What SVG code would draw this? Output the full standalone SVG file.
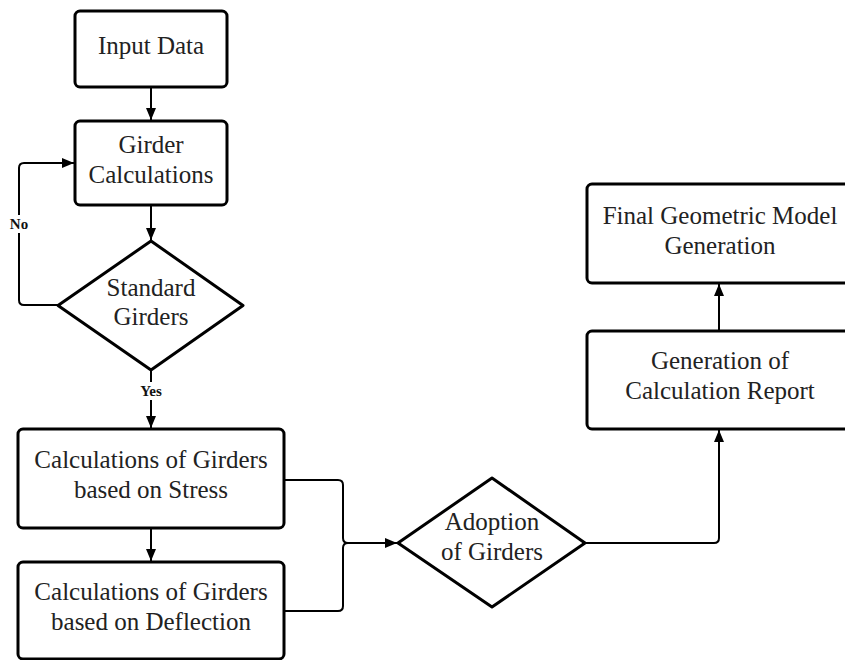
<svg xmlns="http://www.w3.org/2000/svg" width="845" height="660" viewBox="0 0 845 660">
<style>
.box{fill:#fff;stroke:#000;stroke-width:3;}
.t{font-family:"Liberation Serif","Times New Roman",serif;font-size:25px;fill:#222;text-anchor:middle;}
.lbl{font-family:"Liberation Serif","Times New Roman",serif;font-size:15px;font-weight:bold;fill:#111;text-anchor:middle;}
.c{fill:none;stroke:#000;stroke-width:2;}
</style>
<defs>
<marker id="ah" viewBox="0 0 12 10" refX="12" refY="5" markerWidth="12" markerHeight="10" markerUnits="userSpaceOnUse" orient="auto">
<path d="M0,0 L12,5 L0,10 Z" fill="#000"/>
</marker>
</defs>
<rect width="845" height="660" fill="#fff"/>
<g id="connectors">
<path class="c" d="M151,87 V120" marker-end="url(#ah)"/>
<path class="c" d="M151,205 V240" marker-end="url(#ah)"/>
<path class="c" d="M58,305 H24 Q19,305 19,300 V168 Q19,163 24,163 H74" marker-end="url(#ah)"/>
<path class="c" d="M151,370 V428" marker-end="url(#ah)"/>
<path class="c" d="M151,528 V561" marker-end="url(#ah)"/>
<path class="c" d="M284,480 H338 Q343,480 343,485 V538 Q343,543 348,543 H397" marker-end="url(#ah)"/>
<path class="c" d="M284,611 H338 Q343,611 343,606 V548 Q343,543 348,543"/>
<path class="c" d="M585,543 H714 Q719,543 719,538 V430" marker-end="url(#ah)"/>
<path class="c" d="M719,331 V284" marker-end="url(#ah)"/>
<rect x="8" y="215" width="24" height="18" fill="#fff"/>
<text class="lbl" x="19" y="229">No</text>
<rect x="137" y="382" width="28" height="18" fill="#fff"/>
<text class="lbl" x="151" y="396">Yes</text>
</g>
<g id="input-data">
<rect class="box" x="75" y="11" width="152" height="76" rx="5"/>
<text class="t" x="151" y="54">Input Data</text>
</g>
<g id="girder-calculations">
<rect class="box" x="75" y="121" width="152" height="84" rx="5"/>
<text class="t" x="151" y="153">Girder</text>
<text class="t" x="151" y="183">Calculations</text>
</g>
<g id="standard-girders">
<path class="box" d="M151,241 L243,305.5 L151,370 L58,305.5 Z" stroke-linejoin="round"/>
<text class="t" x="151" y="296">Standard</text>
<text class="t" x="151" y="325">Girders</text>
</g>
<g id="stress">
<rect class="box" x="18" y="429" width="266" height="99" rx="5"/>
<text class="t" x="151" y="468">Calculations of Girders</text>
<text class="t" x="151" y="498">based on Stress</text>
</g>
<g id="deflection">
<rect class="box" x="18" y="562" width="266" height="97" rx="5"/>
<text class="t" x="151" y="600">Calculations of Girders</text>
<text class="t" x="151" y="630">based on Deflection</text>
</g>
<g id="adoption">
<path class="box" d="M492,478 L585,543 L492,607 L398,543 Z" stroke-linejoin="round"/>
<text class="t" x="492" y="530">Adoption</text>
<text class="t" x="492" y="560">of Girders</text>
</g>
<g id="report">
<rect class="box" x="587" y="331" width="270" height="98" rx="5"/>
<text class="t" x="720" y="369">Generation of</text>
<text class="t" x="720" y="399">Calculation Report</text>
</g>
<g id="final-model">
<rect class="box" x="587" y="184" width="270" height="99" rx="5"/>
<text class="t" x="720" y="224">Final Geometric Model</text>
<text class="t" x="720" y="254">Generation</text>
</g>
</svg>
